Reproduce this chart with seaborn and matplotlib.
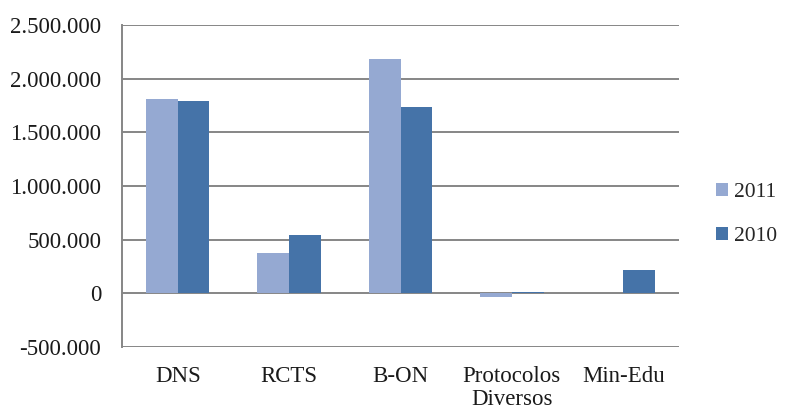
import seaborn as sns
import matplotlib.pyplot as plt
import pandas as pd
from matplotlib.ticker import FuncFormatter, MultipleLocator

categorias = ["DNS", "RCTS", "B-ON", "Protocolos\nDiversos", "Min-Edu"]
valores_2011 = [1813000, 373000, 2183000, -31000, 0]
valores_2010 = [1789000, 540000, 1735000, 12000, 217000]
anos = ["2011", "2010"]
cores = ["#95A9D2", "#4573A8"]


def main():
    df = pd.DataFrame({
        "categoria": categorias * 2,
        "valor": valores_2011 + valores_2010,
        "ano": [anos[0]] * len(categorias) + [anos[1]] * len(categorias),
    })

    sns.set_style("white")
    plt.rcParams["font.family"] = ["Liberation Serif", "DejaVu Serif"]

    fig = plt.figure(figsize=(7.85, 4.12), dpi=100)
    ax = fig.add_axes([0.1554, 0.1578, 0.7096, 0.7815])

    sns.barplot(
        data=df,
        x="categoria",
        y="valor",
        hue="ano",
        hue_order=anos,
        palette=cores,
        width=0.57,
        gap=0,
        saturation=1,
        linewidth=0,
        ax=ax,
        legend=True,
    )

    ax.set_ylim(-500000, 2500000)
    ax.set_xlim(-0.5, len(categorias) - 0.5)
    ax.yaxis.set_major_locator(MultipleLocator(500000))
    ax.yaxis.set_major_formatter(
        FuncFormatter(lambda v, p: f"{int(v):,}".replace(",", "."))
    )
    ax.set_xlabel("")
    ax.set_ylabel("")

    ax.set_axisbelow(True)
    ax.yaxis.grid(True, color="#868686", linewidth=1.4)
    for s in ["top", "right", "bottom"]:
        ax.spines[s].set_visible(False)
    ax.spines["left"].set_color("#868686")
    ax.spines["left"].set_linewidth(1.4)

    ax.tick_params(axis="y", length=0, pad=15, labelsize=16.5, labelcolor="#1a1a1a")
    ax.tick_params(axis="x", length=0, pad=14, labelsize=16.5, labelcolor="#1a1a1a")
    for lbl in ax.get_xticklabels():
        lbl.set_linespacing(1.1)

    handles, labels = ax.get_legend_handles_labels()
    ax.legend(
        handles, labels,
        loc="center left",
        bbox_to_anchor=(0.888, 0.48),
        bbox_transform=fig.transFigure,
        frameon=False,
        fontsize=15.5,
        handlelength=0.55,
        handleheight=0.55,
        handletextpad=0.25,
        labelspacing=1.15,
    )

    fig.savefig("out.png", dpi=100)


if __name__ == "__main__":
    main()
